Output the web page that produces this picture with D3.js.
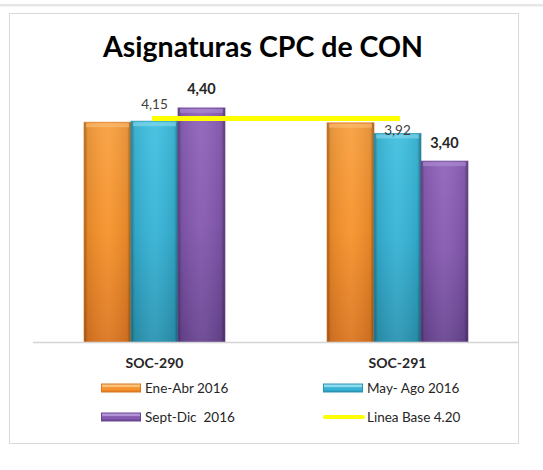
<!DOCTYPE html>
<html>
<head>
<meta charset="utf-8">
<script src="https://cdn.jsdelivr.net/npm/d3@7"></script>
<style>
  html, body { margin: 0; padding: 0; background: #fff; }
  svg { display: block; font-family: Lato, "Open Sans", sans-serif; }
  text { white-space: pre; }
</style>
</head>
<body>
<svg id="chart" width="543" height="470"></svg>
<script>
const categories = ['SOC-290', 'SOC-291'];
const seriesNames = ['Ene-Abr 2016', 'May- Ago 2016', 'Sept-Dic  2016'];
const eneAbr = [4.13, 4.12];
const mayAgo = [4.15, 3.92];
const septDic = [4.40, 3.40];
const lineaBase = [4.20, 4.20];
const lineaName = 'Linea Base 4.20';

const seriesValues = [eneAbr, mayAgo, septDic];
const palette = [
  { top: '#f9a040', mid: '#f7922b', bot: '#dc7722', hi: '#fbc27a' },
  { top: '#41c0e0', mid: '#36b3d6', bot: '#2a95b3', hi: '#8fdcef' },
  { top: '#9064bb', mid: '#8559b0', bot: '#6a4692', hi: '#b393d8' }
];

const svg = d3.select('#chart');
const defs = svg.append('defs');

palette.forEach((c, i) => {
  const v = defs.append('linearGradient').attr('id', 'vg' + i)
    .attr('x1', 0).attr('y1', 0).attr('x2', 0).attr('y2', 1);
  v.append('stop').attr('offset', '0%').attr('stop-color', c.top);
  v.append('stop').attr('offset', '50%').attr('stop-color', c.mid);
  v.append('stop').attr('offset', '100%').attr('stop-color', c.bot);
});
const edge = defs.append('linearGradient').attr('id', 'edge')
  .attr('x1', 0).attr('y1', 0).attr('x2', 1).attr('y2', 0);
edge.append('stop').attr('offset', '0%').attr('stop-color', '#000').attr('stop-opacity', 0.35);
edge.append('stop').attr('offset', '8%').attr('stop-color', '#000').attr('stop-opacity', 0.08);
edge.append('stop').attr('offset', '50%').attr('stop-color', '#fff').attr('stop-opacity', 0.05);
edge.append('stop').attr('offset', '92%').attr('stop-color', '#000').attr('stop-opacity', 0.08);
edge.append('stop').attr('offset', '100%').attr('stop-color', '#000').attr('stop-opacity', 0.4);

// page frame
svg.append('rect').attr('x', 0).attr('y', 4).attr('width', 543).attr('height', 2.5).attr('fill', '#e6e6e6');
svg.append('rect').attr('x', 9.5).attr('y', 13.5).attr('width', 509).attr('height', 430)
  .attr('fill', '#fff').attr('stroke', '#d9d9d9').attr('stroke-width', 1);

// title, fitted to the reference width
const title = svg.append('text')
  .attr('x', 263).attr('y', 57)
  .attr('text-anchor', 'middle')
  .attr('font-weight', 700).attr('font-size', 29).attr('fill', '#000')
  .text('Asignaturas CPC de CON');
const tw = title.node().getComputedTextLength();
title.attr('font-size', 29 * 320 / tw);

const x0 = d3.scaleBand().domain(categories).range([33, 519])
  .paddingInner(0.42).paddingOuter(0.21);
const x1 = d3.scaleBand().domain(d3.range(seriesNames.length)).range([0, x0.bandwidth()]);
const y = d3.scaleLinear().domain([0, 5]).range([342, 76]);

// bars
const groups = svg.append('g').selectAll('g.cat')
  .data(categories).join('g')
  .attr('class', 'cat')
  .attr('transform', d => `translate(${x0(d)},0)`);

groups.each(function(cat, ci) {
  const g = d3.select(this);
  seriesValues.forEach((vals, si) => {
    const bx = x1(si), bw = x1.bandwidth();
    const top = y(vals[ci]), h = y(0) - y(vals[ci]);
    g.append('rect').attr('x', bx).attr('y', top).attr('width', bw).attr('height', h)
      .attr('fill', `url(#vg${si})`);
    g.append('rect').attr('x', bx).attr('y', top).attr('width', bw).attr('height', h)
      .attr('fill', 'url(#edge)');
    // top bevel
    g.append('rect').attr('x', bx + 2).attr('y', top + 1).attr('width', bw - 4).attr('height', 4)
      .attr('fill', palette[si].hi).attr('opacity', 0.55);
    g.append('rect').attr('x', bx).attr('y', top).attr('width', bw).attr('height', h)
      .attr('fill', 'none').attr('stroke', palette[si].bot).attr('stroke-opacity', 0.7).attr('stroke-width', 1);
  });
});

// axis line
svg.append('line').attr('x1', 33).attr('x2', 519).attr('y1', y(0) + 0.5).attr('y2', y(0) + 0.5)
  .attr('stroke', '#d4d4d4').attr('stroke-width', 1.5);

// baseline series
const line = d3.line().x(d => x0(d.cat) + x0.bandwidth() / 2).y(d => y(d.v));
svg.append('path')
  .datum(categories.map((cat, i) => ({ cat, v: lineaBase[i] })))
  .attr('d', line)
  .attr('fill', 'none').attr('stroke', '#ffff00').attr('stroke-width', 5)
  .attr('stroke-linecap', 'square');

// value labels
const fmt = v => d3.format('.2f')(v).replace('.', ',');
categories.forEach((cat, ci) => {
  // May-Ago labels (regular)
  svg.append('text')
    .attr('x', x0(cat) + x1(1) + x1.bandwidth() / 2)
    .attr('y', y(mayAgo[ci]) + (ci === 0 ? -12 : 1.5))
    .attr('text-anchor', 'middle').attr('font-size', 13.5).attr('fill', '#404040')
    .text(fmt(mayAgo[ci]));
  // Sept-Dic labels (bold)
  svg.append('text')
    .attr('x', x0(cat) + x1(2) + x1.bandwidth() / 2)
    .attr('y', y(septDic[ci]) - 13.5)
    .attr('text-anchor', 'middle').attr('font-size', 14.5).attr('font-weight', 700).attr('fill', '#262626')
    .text(fmt(septDic[ci]));
});

// category labels
svg.append('g').selectAll('text')
  .data(categories).join('text')
  .attr('x', d => x0(d) + x0.bandwidth() / 2)
  .attr('y', 368)
  .attr('text-anchor', 'middle').attr('font-size', 14).attr('font-weight', 700).attr('fill', '#262626')
  .text(d => d);

// legend
const legendItems = [
  { name: seriesNames[0], type: 'bar', si: 0 },
  { name: seriesNames[1], type: 'bar', si: 1 },
  { name: seriesNames[2], type: 'bar', si: 2 },
  { name: lineaName, type: 'line' }
];
const legX = [101, 323];
const legY = [388, 417];
const leg = svg.append('g').selectAll('g')
  .data(legendItems).join('g')
  .attr('transform', (d, i) => `translate(${legX[i % 2]},${legY[Math.floor(i / 2)]})`);
leg.each(function(d) {
  const g = d3.select(this);
  if (d.type === 'bar') {
    const c = palette[d.si];
    g.append('rect').attr('x', 0).attr('y', -4.5).attr('width', 40).attr('height', 9)
      .attr('fill', c.bot);
    g.append('rect').attr('x', 1).attr('y', -3.5).attr('width', 38).attr('height', 3)
      .attr('fill', c.hi);
    g.append('rect').attr('x', 1).attr('y', -0.5).attr('width', 38).attr('height', 3)
      .attr('fill', c.mid);
  } else {
    g.append('line').attr('x1', 2).attr('x2', 40).attr('y1', 0).attr('y2', 0)
      .attr('stroke', '#ffff00').attr('stroke-width', 4).attr('stroke-linecap', 'round');
  }
  g.append('text').attr('x', 44).attr('y', 5)
    .attr('font-size', 13.5).attr('fill', '#262626')
    .text(d.name);
});
</script>
</body>
</html>
